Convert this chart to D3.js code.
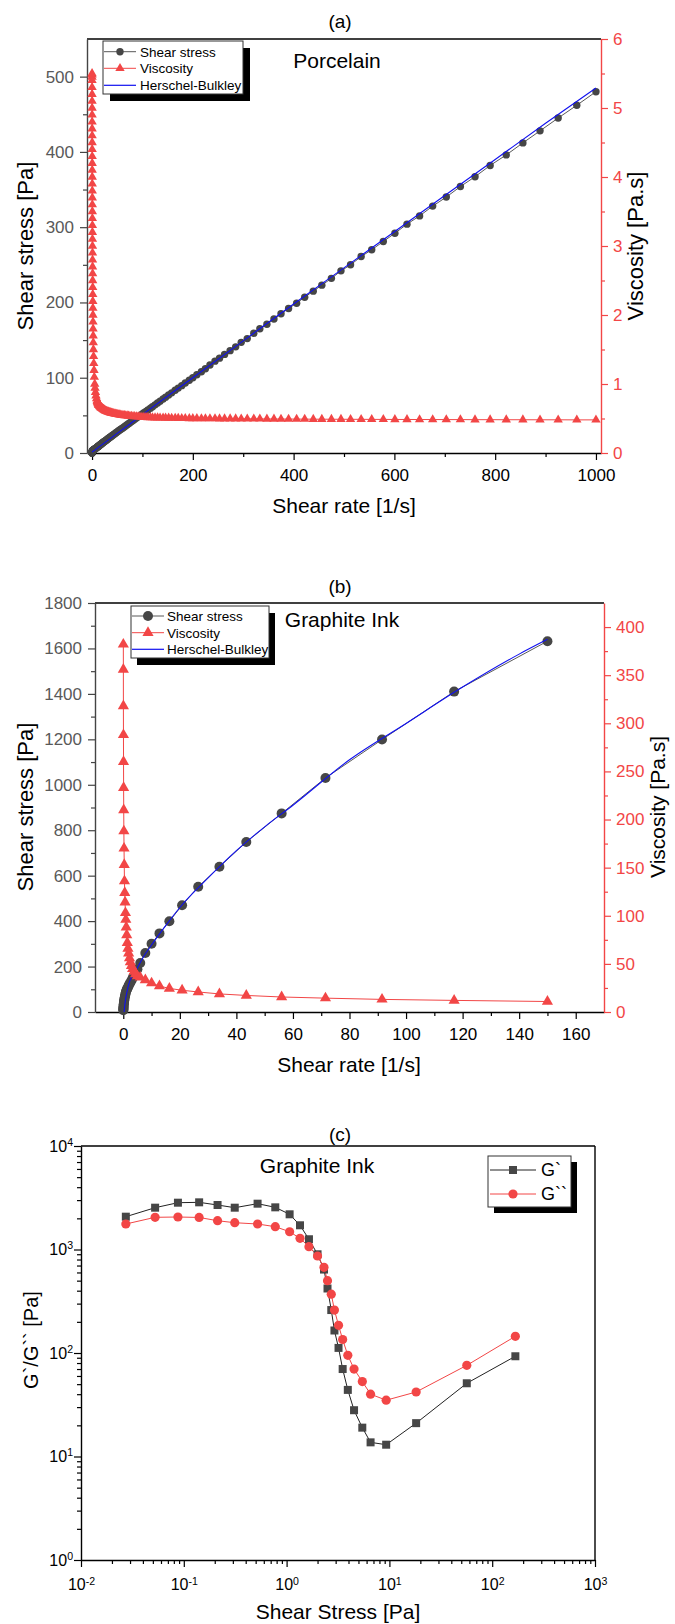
<!DOCTYPE html>
<html><head><meta charset="utf-8">
<script src="https://cdn.jsdelivr.net/npm/d3@7"></script>
<style>
body{margin:0;background:#fff;}
svg{display:block;}
</style></head><body>
<script>
// ---------------- DATA ----------------
// (a) Porcelain
const porcRate = [0.01,0.02,0.03,0.05,0.07,0.1,0.12,0.14,0.16,0.18,0.2,0.22,0.25,0.28,0.31,0.34,0.37,0.4,0.44,0.48,0.52,0.56,0.6,0.65,0.7,0.75,0.8,0.86,0.93,1,1.07,1.15,1.23,1.32,1.42,1.53,1.65,1.78,1.92,2.08,2.25,2.45,2.7,3,3.4,3.9,4.5,5.3,6,6.8,7.8,9,10.2,
10.6,11,11.4,11.9,12.4,12.9,13.4,13.9,14.5,15.1,15.7,16.3,16.9,17.6,18.3,19,19.8,20.6,21.4,22.3,23.2,24.1,25.1,26.1,27.1,28.2,29.3,30.5,31.7,33,34.3,35.7,37.1,38.6,40.2,41.8,43.4,45.2,47,48.9,50.8,52.9,55,57.2,59.5,61.8,64.3,66.9,69.6,72.3,75.2,78.3,81.4,84.6,88,91.6,95,99,103,107,111,116,120,125,130,135,141,146,152,158,165,171,178,185,193,200,208,217,225,234,244,253,263,274,285,296,308,321,333,347,361,375,390,406,422,439,456,475,494,513,534,555,578,601,625,650,676,703,731,760,790,822,855,889,925,962,1000];
const porcStress = [0.06,0.11,0.16,0.27,0.37,0.52,0.61,0.70,0.78,0.86,0.94,1.01,1.13,1.23,1.33,1.43,1.52,1.60,1.72,1.82,1.92,2.02,2.10,2.21,2.31,2.40,2.48,2.58,2.70,2.80,2.89,2.99,3.08,3.17,3.27,3.37,3.47,3.56,3.65,3.74,3.83,3.92,4.05,4.20,4.42,4.68,4.95,5.30,5.64,5.98,6.47,7.11,7.75,
7.95,8.14,8.32,8.57,8.80,9.03,9.38,9.59,10.0,10.3,10.7,10.9,11.3,11.6,12.1,12.4,12.9,13.3,13.7,14.2,14.6,15.1,15.6,16.1,16.5,17.1,17.7,18.3,18.9,19.6,20.2,21.0,21.7,22.4,23.2,24.0,24.8,25.7,26.6,27.5,28.4,29.5,30.5,31.5,32.6,33.7,35.0,36.3,37.6,38.8,40.2,41.7,43.2,44.8,46.4,48.1,49.7,51.6,53.5,55.3,57.2,59.6,61.6,64.0,66.4,68.9,71.8,74.2,77.1,79.9,83.3,86.2,89.5,92.9,96.7,100,104,108,112,117,122,126,131,136,141,147,152,159,165,171,178,185,192,199,207,215,223,232,242,250,261,270,281,292,304,315,328,340,354,367,382,396,412,428,445,462,480];
const porcVisc = [5.5,5.48,5.45,5.4,5.3,5.2,5.1,5.0,4.9,4.8,4.7,4.6,4.5,4.4,4.3,4.2,4.1,4.0,3.9,3.8,3.7,3.6,3.5,3.4,3.3,3.2,3.1,3.0,2.9,2.8,2.7,2.6,2.5,2.4,2.3,2.2,2.1,2.0,1.9,1.8,1.7,1.6,1.5,1.4,1.3,1.2,1.1,1.0,0.94,0.88,0.83,0.79,0.76,
0.75,0.74,0.73,0.72,0.71,0.70,0.70,0.69,0.69,0.68,0.68,0.67,0.67,0.66,0.66,0.65,0.65,0.645,0.64,0.635,0.63,0.625,0.62,0.615,0.61,0.607,0.604,0.60,0.597,0.594,0.59,0.587,0.584,0.58,0.577,0.574,0.571,0.568,0.565,0.562,0.56,0.557,0.554,0.551,0.548,0.546,0.544,0.542,0.54,0.537,0.535,0.533,0.531,0.529,0.527,0.525,0.523,0.521,0.519,0.517,0.515,0.514,0.513,0.512,0.511,0.510,0.509,0.508,0.507,0.506,0.505,0.504,0.503,0.502,0.501,0.500,0.500,0.499,0.499,0.498,0.498,0.497,0.497,0.496,0.496,0.495,0.495,0.494,0.494,0.493,0.493,0.492,0.492,0.491,0.491,0.490,0.490,0.489,0.489,0.488,0.488,0.487,0.487,0.486,0.486,0.485,0.485,0.484,0.484,0.483,0.483,0.482,0.482,0.481,0.481,0.480,0.480];
const porcFitRate = [0,5,10,20,50,100,200,300,400,500,600,700,800,900,1000];
const porcFitStress = [1.3,3.6,6.2,11.2,26,51,100,149,198,246,294,342,390,438,485];
const porcXTicks = [0,200,400,600,800,1000];
const porcXMinor = [100,300,500,700,900];
const porcYTicks = [0,100,200,300,400,500];
const porcYMinor = [50,150,250,350,450];
const porcViscTicks = [0,1,2,3,4,5,6];
const porcViscMinor = [0.5,1.5,2.5,3.5,4.5,5.5];

// (b) Graphite ink
const inkRate = [0.02,0.03,0.045,0.065,0.09,0.12,0.16,0.21,0.27,0.34,0.42,0.52,0.63,0.76,0.9,1.05,1.22,1.42,1.65,1.9,2.2,2.5,2.9,3.3,3.8,4.4,5,6,7.8,10,12.8,16.3,20.8,26.5,34,43.5,56,71.5,91.5,117,150];
const inkStress = [7.6,10.7,14.3,18.7,23.4,28,33.6,39.5,45.9,52,57.1,64.5,71.8,78.3,86.4,92.4,97.6,102,109,116,123,130,139,149,160,174,188,216,260,300,346,399,470,551,639,748,874,1030,1199,1410,1632];
const inkVisc = [382,356,318,288,260,233,210,188,170,153,136,124,114,103,96,88,80,72,66,61,56,52,48,45,42,39.5,37.5,36,33.3,30,27,24.5,22.6,20.8,18.8,17.2,15.6,14.4,13.1,12.05,10.9];
const inkFitRate = [0.3,0.5,0.75,1,1.5,2,3,5,7,10,15,20,30,40,50,60,80,100,120,140,150];
const inkFitStress = [0,25,51,70,100,125,155,195,240,295,380,460,590,710,815,910,1110,1270,1430,1575,1640];
const inkXTicks = [0,20,40,60,80,100,120,140,160];
const inkXMinor = [10,30,50,70,90,110,130,150];
const inkYTicks = [0,200,400,600,800,1000,1200,1400,1600,1800];
const inkYMinor = [100,300,500,700,900,1100,1300,1500,1700];
const inkViscTicks = [0,50,100,150,200,250,300,350,400];
const inkViscMinor = [25,75,125,175,225,275,325,375];

// (c) Oscillation
const oscStress = [0.0273,0.0526,0.0877,0.141,0.213,0.313,0.522,0.776,1.07,1.35,1.65,2.0,2.31,2.5,2.72,2.92,3.2,3.51,3.94,4.53,5.45,6.56,9.3,18.2,56.6,168];
const gPrime = [2075,2535,2833,2856,2691,2535,2771,2555,2188,1714,1256,899,640,420,260,165,112,70,44,28,19,13.7,13,21,51,93];
const gDoublePrime = [1763,2047,2060,2040,1897,1815,1763,1661,1485,1282,1065,865,673,500,370,260,185,135,95,70,53,40,35,42,76,145];
const oscXTicks = [0.01,0.1,1,10,100,1000];
const oscYTicks = [1,10,100,1000,10000];

// ---------------- STYLE ----------------
const FONT = "'Liberation Sans', Arial, Helvetica, sans-serif";
const RED = "#f24646";
const DARK = "#464646";
const LGRAY = "#585858";
const BLUE = "#1010f0";

const svg = d3.select("body").append("svg").attr("width",675).attr("height",1624)
  .style("font-family",FONT).style("background","#fff");

function txt(x,y,s,size,opts={}){
  const t = svg.append("text").attr("x",x).attr("y",y).attr("font-size",size)
    .attr("font-family",FONT).attr("text-anchor",opts.anchor||"middle")
    .attr("fill",opts.fill||"#000").text(s);
  if(opts.rot){ t.attr("transform",`rotate(${opts.rot},${x},${y})`).attr("dy","0.35em"); }
  return t;
}
function addAxis(factory, tx, ty, majors, minors, o){
  const g = svg.append("g").attr("transform",`translate(${tx},${ty})`);
  g.call(factory().tickValues(majors).tickSize(7).tickSizeOuter(0).tickPadding(o.pad).tickFormat(o.fmt));
  g.select(".domain").attr("stroke",o.color).attr("stroke-width",1.4);
  g.selectAll(".tick line").attr("stroke",o.color).attr("stroke-width",1.2);
  g.selectAll(".tick text").attr("fill",o.text).attr("font-size",o.fs).attr("font-family",FONT);
  if(minors && minors.length){
    const gm = svg.append("g").attr("transform",`translate(${tx},${ty})`);
    gm.call(factory().tickValues(minors).tickSize(4).tickSizeOuter(0).tickFormat(""));
    gm.select(".domain").remove();
    gm.selectAll(".tick line").attr("stroke",o.color).attr("stroke-width",1.2);
  }
  return g;
}
function hline(x1,x2,y,c){ svg.append("line").attr("x1",x1).attr("x2",x2).attr("y1",y).attr("y2",y).attr("stroke",c).attr("stroke-width",1.4); }
function vline(x,y1,y2,c){ svg.append("line").attr("x1",x).attr("x2",x).attr("y1",y1).attr("y2",y2).attr("stroke",c).attr("stroke-width",1.4); }
function legendBox(x0,y0,w,h,dx,dy){
  svg.append("rect").attr("x",x0+dx).attr("y",y0+dy).attr("width",w).attr("height",h).attr("fill","#000");
  svg.append("rect").attr("x",x0).attr("y",y0).attr("width",w).attr("height",h).attr("fill","#fff").attr("stroke","#333").attr("stroke-width",1);
}
const tri = s => d3.symbol().type(d3.symbolTriangle).size(s)();
const sq = s => d3.symbol().type(d3.symbolSquare).size(s)();

// ---------------- PANEL (a) ----------------
(function(){
  const L=87,R=601,T=39,B=453;
  const x=d3.scaleLinear([-10,1010],[L,R]);
  const yL=d3.scaleLinear([0,550],[B,T]);
  const yR=d3.scaleLinear([0,6],[B,T]);
  hline(L,R,T,"#000");
  addAxis(()=>d3.axisBottom(x),0,B,porcXTicks,porcXMinor,{color:"#000",text:"#000",fs:17,pad:9,fmt:d3.format("d")});
  addAxis(()=>d3.axisLeft(yL),L,0,porcYTicks,porcYMinor,{color:"#444",text:"#595959",fs:17,pad:6,fmt:d3.format("d")});
  addAxis(()=>d3.axisRight(yR),R,0,porcViscTicks,porcViscMinor,{color:RED,text:RED,fs:17,pad:5,fmt:d3.format("d")});

  const ls = d3.line().x((d,i)=>x(porcRate[i])).y((d,i)=>yL(porcStress[i]));
  svg.append("path").datum(porcRate).attr("d",ls).attr("fill","none").attr("stroke",LGRAY).attr("stroke-width",1);
  svg.append("g").selectAll("circle").data(porcRate).join("circle")
    .attr("cx",d=>x(d)).attr("cy",(d,i)=>yL(porcStress[i])).attr("r",3.7).attr("fill",DARK);
  const lf = d3.line().curve(d3.curveMonotoneX).x((d,i)=>x(porcFitRate[i])).y((d,i)=>yL(porcFitStress[i]));
  svg.append("path").datum(porcFitRate).attr("d",lf).attr("fill","none").attr("stroke",BLUE).attr("stroke-width",1.1);
  const lv = d3.line().x((d,i)=>x(porcRate[i])).y((d,i)=>yR(porcVisc[i]));
  svg.append("path").datum(porcRate).attr("d",lv).attr("fill","none").attr("stroke",RED).attr("stroke-width",1);
  svg.append("g").selectAll("path").data(porcRate).join("path")
    .attr("d",tri(38)).attr("transform",(d,i)=>`translate(${x(d)},${yR(porcVisc[i])})`).attr("fill",RED);

  txt(340,28,"(a)",19);
  txt(337,68,"Porcelain",21);
  txt(344,513,"Shear rate [1/s]",21);
  txt(25,246,"Shear stress [Pa]",22,{rot:-90});
  txt(635,246,"Viscosity [Pa.s]",22,{rot:-90});

  legendBox(103,41,140,53,7,7);
  const rows=[51.7,68.3,85.3];
  svg.append("line").attr("x1",104).attr("x2",136).attr("y1",rows[0]).attr("y2",rows[0]).attr("stroke",LGRAY);
  svg.append("circle").attr("cx",120).attr("cy",rows[0]).attr("r",3.7).attr("fill",DARK);
  svg.append("line").attr("x1",104).attr("x2",136).attr("y1",rows[1]).attr("y2",rows[1]).attr("stroke",RED);
  svg.append("path").attr("d",tri(38)).attr("transform",`translate(120,${rows[1]})`).attr("fill",RED);
  svg.append("line").attr("x1",104).attr("x2",136).attr("y1",rows[2]).attr("y2",rows[2]).attr("stroke",BLUE).attr("stroke-width",1.2);
  ["Shear stress","Viscosity","Herschel-Bulkley"].forEach((s,i)=>txt(140,rows[i],s,13.5,{anchor:"start"}).attr("dy","0.36em"));
})();

// ---------------- PANEL (b) ----------------
(function(){
  const L=95,R=604,T=603,B=1012;
  const x=d3.scaleLinear([-10,170],[L,R]);
  const yL=d3.scaleLinear([0,1800],[B,T]);
  const yR=d3.scaleLinear([0,425],[B,T]);
  hline(L,R,T,"#000");
  addAxis(()=>d3.axisBottom(x),0,B,inkXTicks,inkXMinor,{color:"#000",text:"#000",fs:17,pad:9,fmt:d3.format("d")});
  addAxis(()=>d3.axisLeft(yL),L,0,inkYTicks,inkYMinor,{color:"#444",text:"#595959",fs:17,pad:6,fmt:d3.format("d")});
  addAxis(()=>d3.axisRight(yR),R,0,inkViscTicks,inkViscMinor,{color:RED,text:RED,fs:17,pad:5,fmt:d3.format("d")});

  const ls = d3.line().x((d,i)=>x(inkRate[i])).y((d,i)=>yL(inkStress[i]));
  svg.append("path").datum(inkRate).attr("d",ls).attr("fill","none").attr("stroke",LGRAY).attr("stroke-width",1);
  svg.append("g").selectAll("circle").data(inkRate).join("circle")
    .attr("cx",d=>x(d)).attr("cy",(d,i)=>yL(inkStress[i])).attr("r",5).attr("fill",DARK);
  const lf = d3.line().curve(d3.curveMonotoneX).x((d,i)=>x(inkFitRate[i])).y((d,i)=>yL(inkFitStress[i]));
  svg.append("path").datum(inkFitRate).attr("d",lf).attr("fill","none").attr("stroke",BLUE).attr("stroke-width",1.1);
  const lv = d3.line().x((d,i)=>x(inkRate[i])).y((d,i)=>yR(inkVisc[i]));
  svg.append("path").datum(inkRate).attr("d",lv).attr("fill","none").attr("stroke",RED).attr("stroke-width",1);
  svg.append("g").selectAll("path").data(inkRate).join("path")
    .attr("d",tri(54)).attr("transform",(d,i)=>`translate(${x(d)},${yR(inkVisc[i])})`).attr("fill",RED);

  txt(340,593,"(b)",19);
  txt(342,627,"Graphite Ink",21);
  txt(349,1072,"Shear rate [1/s]",21);
  txt(25,807,"Shear stress [Pa]",22,{rot:-90});
  txt(658,807,"Viscosity [Pa.s]",21,{rot:-90});

  legendBox(131,606,138,52,6,7);
  const rows=[616,632.7,649.3];
  svg.append("line").attr("x1",132).attr("x2",164).attr("y1",rows[0]).attr("y2",rows[0]).attr("stroke",LGRAY);
  svg.append("circle").attr("cx",148).attr("cy",rows[0]).attr("r",5).attr("fill",DARK);
  svg.append("line").attr("x1",132).attr("x2",164).attr("y1",rows[1]).attr("y2",rows[1]).attr("stroke",RED);
  svg.append("path").attr("d",tri(54)).attr("transform",`translate(148,${rows[1]})`).attr("fill",RED);
  svg.append("line").attr("x1",132).attr("x2",164).attr("y1",rows[2]).attr("y2",rows[2]).attr("stroke",BLUE).attr("stroke-width",1.2);
  ["Shear stress","Viscosity","Herschel-Bulkley"].forEach((s,i)=>txt(167,rows[i],s,13.5,{anchor:"start"}).attr("dy","0.36em"));
})();

// ---------------- PANEL (c) ----------------
(function(){
  const L=81,R=595,T=1146,B=1560;
  const x=d3.scaleLog([0.01,1000],[L,R]);
  const y=d3.scaleLog([1,10000],[B,T]);
  const xMinor=[], yMinor=[];
  oscXTicks.slice(0,-1).forEach(d=>{ for(let k=2;k<10;k++) xMinor.push(d*k); });
  oscYTicks.slice(0,-1).forEach(d=>{ for(let k=2;k<10;k++) yMinor.push(d*k); });
  hline(L,R,T,"#000");
  vline(R,T,B,"#000");
  const pow = g => g.selectAll(".tick text").each(function(d){
    const e=Math.round(Math.log10(d)); const t=d3.select(this); t.text(null);
    t.append("tspan").text("10");
    t.append("tspan").attr("dy","-0.55em").attr("font-size","0.66em").text(e);
  });
  pow(addAxis(()=>d3.axisBottom(x),0,B,oscXTicks,xMinor,{color:"#000",text:"#000",fs:16,pad:12,fmt:()=>""}));
  pow(addAxis(()=>d3.axisLeft(y),L,0,oscYTicks,yMinor,{color:"#000",text:"#000",fs:16,pad:1,fmt:()=>""}));

  const l1 = d3.line().x((d,i)=>x(oscStress[i])).y((d,i)=>y(gPrime[i]));
  svg.append("path").datum(oscStress).attr("d",l1).attr("fill","none").attr("stroke","#222").attr("stroke-width",1);
  const l2 = d3.line().x((d,i)=>x(oscStress[i])).y((d,i)=>y(gDoublePrime[i]));
  svg.append("path").datum(oscStress).attr("d",l2).attr("fill","none").attr("stroke",RED).attr("stroke-width",1);
  svg.append("g").selectAll("path").data(oscStress).join("path")
    .attr("d",sq(64)).attr("transform",(d,i)=>`translate(${x(d)},${y(gPrime[i])})`).attr("fill",DARK);
  svg.append("g").selectAll("circle").data(oscStress).join("circle")
    .attr("cx",d=>x(d)).attr("cy",(d,i)=>y(gDoublePrime[i])).attr("r",4.6).attr("fill",RED);

  txt(340,1141,"(c)",19);
  txt(317,1173,"Graphite Ink",21);
  txt(338,1619,"Shear Stress [Pa]",21);
  txt(31,1340,"G`/G`` [Pa]",20,{rot:-90});

  legendBox(488,1156,83,51,6,6);
  const rows=[1170,1194];
  svg.append("line").attr("x1",490).attr("x2",536).attr("y1",rows[0]).attr("y2",rows[0]).attr("stroke","#222");
  svg.append("path").attr("d",sq(64)).attr("transform",`translate(513,${rows[0]})`).attr("fill",DARK);
  svg.append("line").attr("x1",490).attr("x2",536).attr("y1",rows[1]).attr("y2",rows[1]).attr("stroke",RED);
  svg.append("circle").attr("cx",513).attr("cy",rows[1]).attr("r",4.6).attr("fill",RED);
  ["G`","G``"].forEach((s,i)=>txt(541,rows[i],s,18,{anchor:"start"}).attr("dy","0.36em"));
})();
</script>
</body></html>
